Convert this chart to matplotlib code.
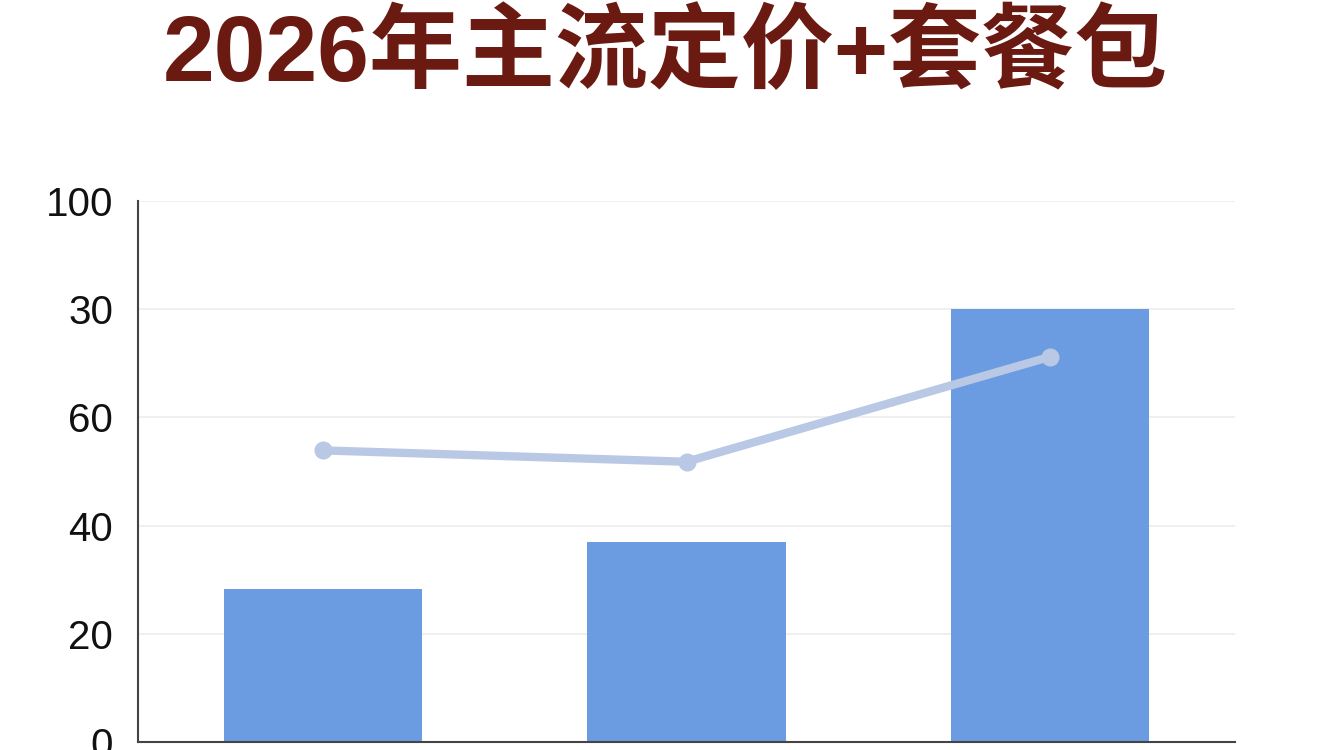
import numpy as np
from matplotlib import pyplot as plt

# chart data
title = "2026年主流定价+套餐包"
bar_values = [28.2, 36.9, 80.0]
line_values = [53.9, 51.8, 71.2]
ytick_values = [0, 20, 40, 60, 80, 100]
ytick_labels = ["0", "20", "40", "60", "30", "100"]

bar_color = "#6b9be0"
line_color = "#b9c8e5"
title_color = "#6b1a12"

p = plt.rcParams
p["font.family"] = ["Liberation Sans", "Noto Sans CJK SC", "DejaVu Sans"]

fig = plt.figure(figsize=(13.44, 7.5), dpi=100)
ax = fig.add_axes([138/1344, 1-742/750, (1235-138)/1344, (742-201)/750])

x = np.arange(len(bar_values))
ax.bar(x, bar_values, width=0.547, color=bar_color, zorder=2)
ax.plot(x, line_values, color=line_color, lw=6, marker="o", ms=12,
        solid_capstyle="round", zorder=3)

ax.set_xlim(-0.509, 2.509)
ax.set_ylim(0, 100)
ax.set_yticks(ytick_values)
ax.set_yticklabels(ytick_labels, fontsize=29)
ax.set_xticks([])
ax.tick_params(axis="y", length=0, pad=18, colors="#111111")
ax.grid(axis="y", color="#ececec", lw=1.2, zorder=0)
ax.set_axisbelow(True)
ax.spines.right.set_visible(False)
ax.spines.top.set_visible(False)
ax.spines.left.set_color("#444444")
ax.spines.bottom.set_color("#444444")
ax.spines.left.set_linewidth(1.5)
ax.spines.bottom.set_linewidth(1.5)

fig.text(0.495, 0.926, title, ha="center", va="center", fontsize=67,
         fontweight="bold", color=title_color,
         family=["Liberation Sans", "Noto Sans CJK SC"])

fig.savefig("out.png", dpi=100)
